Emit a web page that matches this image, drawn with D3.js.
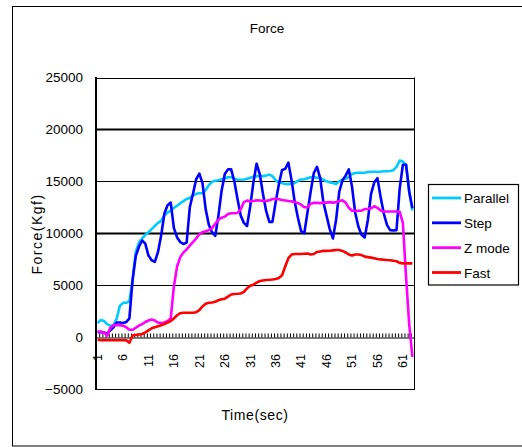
<!DOCTYPE html>
<html>
<head>
<meta charset="utf-8">
<script src="https://cdnjs.cloudflare.com/ajax/libs/d3/7.8.5/d3.min.js"></script>
<style>
  body { margin: 0; background: #fff; }
  svg { display: block; font-family: "Liberation Sans", Arial, sans-serif; }
</style>
</head>
<body>
<svg id="chart" width="522" height="447"></svg>
<script>
// x axis: 100 samples, a label every 8th sample
const tickLabels = ['1', '6', '11', '16', '21', '26', '31', '36', '41', '46', '51', '56', '61'];
const labelEvery = 8;
const sampleCount = 100;

const seriesNames = ['Parallel', 'Step', 'Z mode', 'Fast'];
const seriesColors = ['#00ccff', '#0000ff', '#ff00ff', '#ff0000'];

const parallel = [1350, 1650, 1550, 1250, 1100, 1150, 1750, 3000, 3300, 3300,
  3450, 5500, 8200, 9100, 9500, 9850, 10100, 10400, 10700, 11000,
  11200, 11700, 12000, 12150, 12450, 12650, 12900, 13100, 13300, 13400,
  13650, 13800, 13850, 13850, 14150, 14650, 14950, 15050, 15100, 15200,
  15250, 15400, 15400, 15250, 15150, 15150, 15170, 15250, 15350, 15450,
  15500, 15500, 15500, 15550, 15650, 15500, 15100, 14900, 14830, 14750,
  14730, 14780, 14850, 15050, 15170, 15200, 15300, 15400, 15400, 15350,
  15300, 15150, 15000, 14900, 14850, 14750, 15000, 15150, 15250, 15400,
  15700, 15800, 15830, 15830, 15830, 15900, 15930, 15930, 15930, 15930,
  15970, 15970, 16000, 16070, 16400, 17000, 16900, 16600, 14000, 12200];

const step = [480, 500, 450, 350, 650, 950, 1400, 1400, 1350, 1450,
  1800, 5500, 7800, 8700, 9300, 9000, 7850, 7400, 7250, 8200,
  9800, 11900, 12700, 12950, 10500, 9600, 9150, 8970, 9100, 12500,
  13800, 15200, 15750, 14800, 12300, 10800, 10100, 9750, 11700, 14100,
  15700, 16150, 16150, 15000, 13300, 11700, 11000, 10700, 12600, 14900,
  16700, 15700, 13800, 12150, 11100, 11100, 13000, 14700, 16100, 16200,
  16800, 15100, 13000, 11500, 10200, 10000, 12000, 14000, 15800, 16400,
  15300, 13000, 11700, 10400, 9500, 11300, 14000, 15100, 15550, 16150,
  14500, 12000, 10650, 9850, 9600, 11300, 13800, 14900, 15300, 13500,
  11900, 10800, 10300, 10270, 10300, 14300, 16600, 16600, 14000, 12400];

const zMode = [500, 500, 450, 150, 900, 1150, 1150, 1150, 1100, 950,
  700, 700, 900, 1100, 1250, 1450, 1600, 1700, 1600, 1400,
  1350, 1400, 1550, 1800, 4900, 6800, 7700, 8150, 8450, 8800,
  9150, 9500, 9900, 10100, 10200, 10300, 10500, 10900, 11300, 11500,
  11600, 11850, 11930, 11930, 11950, 12300, 13000, 13150, 13070, 13100,
  13170, 13150, 13120, 13100, 13170, 13300, 13330, 13280, 13200, 13150,
  13100, 13070, 13000, 12900, 12750, 12500, 12500, 12850, 12930, 12930,
  12900, 12950, 12950, 13000, 12950, 13000, 13100, 13170, 12950, 12450,
  12170, 12170, 12170, 12170, 12330, 12330, 12400, 12600, 12450, 12200,
  12100, 12100, 12100, 12100, 12100, 12050, 11000, 5800, 1200, -1900];

const fast = [-250, -300, -300, -300, -300, -300, -300, -300, -300, -300,
  -550, 150, 200, 250, 300, 450, 650, 850, 950, 1050,
  1150, 1250, 1400, 1550, 1800, 2100, 2300, 2350, 2350, 2350,
  2350, 2400, 2600, 2950, 3200, 3300, 3330, 3400, 3550, 3650,
  3700, 3900, 4100, 4150, 4170, 4200, 4350, 4700, 4950, 5050,
  5250, 5400, 5450, 5500, 5520, 5550, 5600, 5700, 5950, 6800,
  7600, 7950, 8000, 8000, 8000, 8030, 8050, 7950, 8000, 8200,
  8250, 8300, 8300, 8320, 8350, 8380, 8380, 8300, 8150, 7950,
  7850, 7950, 7950, 7900, 7750, 7700, 7650, 7600, 7520, 7480,
  7450, 7420, 7400, 7350, 7300, 7150, 7100, 7100, 7100, 7100];

const yTicks = [-5000, 0, 5000, 10000, 15000, 20000, 25000];

const seriesValues = [parallel, step, zMode, fast];

const svg = d3.select('#chart');
const plot = { left: 96, right: 414, top: 77.5, bottom: 389 };

// chart frame (runs off the right edge like the original)
svg.append('rect')
  .attr('x', 12.5).attr('y', 6.5)
  .attr('width', 530).attr('height', 439.5)
  .attr('fill', '#fff').attr('stroke', '#000').attr('stroke-width', 1);

const categories = d3.range(sampleCount);
const x = d3.scaleBand().domain(categories).range([plot.left, plot.right]).padding(0);
const xEdge = d3.scaleLinear().domain([0, sampleCount]).range([plot.left, plot.right]);
const y = d3.scaleLinear().domain([-5000, 25000]).range([plot.bottom, plot.top]);
const cx = i => x(i) + x.bandwidth() / 2;

// gridlines
svg.append('g').selectAll('line')
  .data(yTicks.filter(v => v > 0))
  .enter().append('line')
  .attr('x1', plot.left).attr('x2', plot.right)
  .attr('y1', d => Math.round(y(d)) + 0.5).attr('y2', d => Math.round(y(d)) + 0.5)
  .attr('stroke', '#000')
  .attr('stroke-width', d => d % 10000 === 0 ? 2 : 1);

// right and bottom edges of plot area
svg.append('line')
  .attr('x1', plot.right + 0.5).attr('x2', plot.right + 0.5)
  .attr('y1', plot.top).attr('y2', plot.bottom + 0.5)
  .attr('stroke', '#000');
svg.append('line')
  .attr('x1', plot.left).attr('x2', plot.right + 1)
  .attr('y1', plot.bottom + 0.5).attr('y2', plot.bottom + 0.5)
  .attr('stroke', '#000');

// y axis
const yAxis = d3.axisLeft(y).tickValues(yTicks).tickSize(0).tickPadding(13)
  .tickFormat(d3.format('d'));
const gy = svg.append('g').attr('transform', `translate(${plot.left}, 0)`).call(yAxis);
gy.select('.domain').remove();
gy.selectAll('text').attr('font-size', 13.5).attr('fill', '#000');
svg.append('line')
  .attr('x1', plot.left).attr('x2', plot.left)
  .attr('y1', plot.top - 0.5).attr('y2', plot.bottom + 1)
  .attr('stroke', '#000').attr('stroke-width', 2);

// zero axis with category tick marks
const y0 = Math.round(y(0)) + 0.5;
const xAxis = d3.axisTop(xEdge).tickValues(d3.range(sampleCount + 1)).tickSize(4).tickFormat('');
const gx = svg.append('g').attr('transform', `translate(0, ${y0})`).call(xAxis);
gx.select('.domain').attr('stroke', '#000');
gx.selectAll('line').attr('stroke', '#000');

// category labels, rotated
const labelAxis = d3.axisBottom(x)
  .tickValues(categories.filter(i => i % labelEvery === 0))
  .tickSize(0)
  .tickFormat(i => tickLabels[i / labelEvery]);
const gl = svg.append('g').attr('transform', `translate(0, 351)`).call(labelAxis);
gl.select('.domain').remove();
gl.selectAll('text')
  .attr('font-size', 12.5).attr('fill', '#000')
  .attr('transform', 'rotate(-90)')
  .attr('text-anchor', 'end')
  .attr('x', -3).attr('y', 0).attr('dy', '0.35em');

// series lines
const lineGen = d3.line()
  .x((d, i) => cx(i))
  .y(d => y(d));

seriesValues.forEach((vals, k) => {
  svg.append('path')
    .attr('d', lineGen(vals))
    .attr('fill', 'none')
    .attr('stroke', seriesColors[k])
    .attr('stroke-width', 2.6)
    .attr('stroke-linejoin', 'round');
});

// titles
svg.append('text').text('Force')
  .attr('x', 267).attr('y', 33)
  .attr('text-anchor', 'middle').attr('font-size', 13.5);

svg.append('text').text('Time(sec)')
  .attr('x', 255).attr('y', 420)
  .attr('text-anchor', 'middle').attr('font-size', 14)
  .attr('letter-spacing', 0.6);

svg.append('text').text('Force(Kgf)')
  .attr('transform', 'translate(42, 234) rotate(-90)')
  .attr('text-anchor', 'middle').attr('font-size', 14)
  .attr('letter-spacing', 1.5);

// legend
const legend = svg.append('g');
legend.append('rect')
  .attr('x', 428.5).attr('y', 184.5)
  .attr('width', 90).attr('height', 100.5)
  .attr('fill', '#fff').attr('stroke', '#000').attr('stroke-width', 1.2);

const rowY = d3.scalePoint().domain(seriesNames).range([198, 272.5]);
seriesNames.forEach((name, k) => {
  legend.append('line')
    .attr('x1', 432).attr('x2', 461)
    .attr('y1', rowY(name)).attr('y2', rowY(name))
    .attr('stroke', seriesColors[k]).attr('stroke-width', 2.8);
  legend.append('text').text(name)
    .attr('x', 464).attr('y', rowY(name) + 5)
    .attr('font-size', 13.5);
});
</script>
</body>
</html>
